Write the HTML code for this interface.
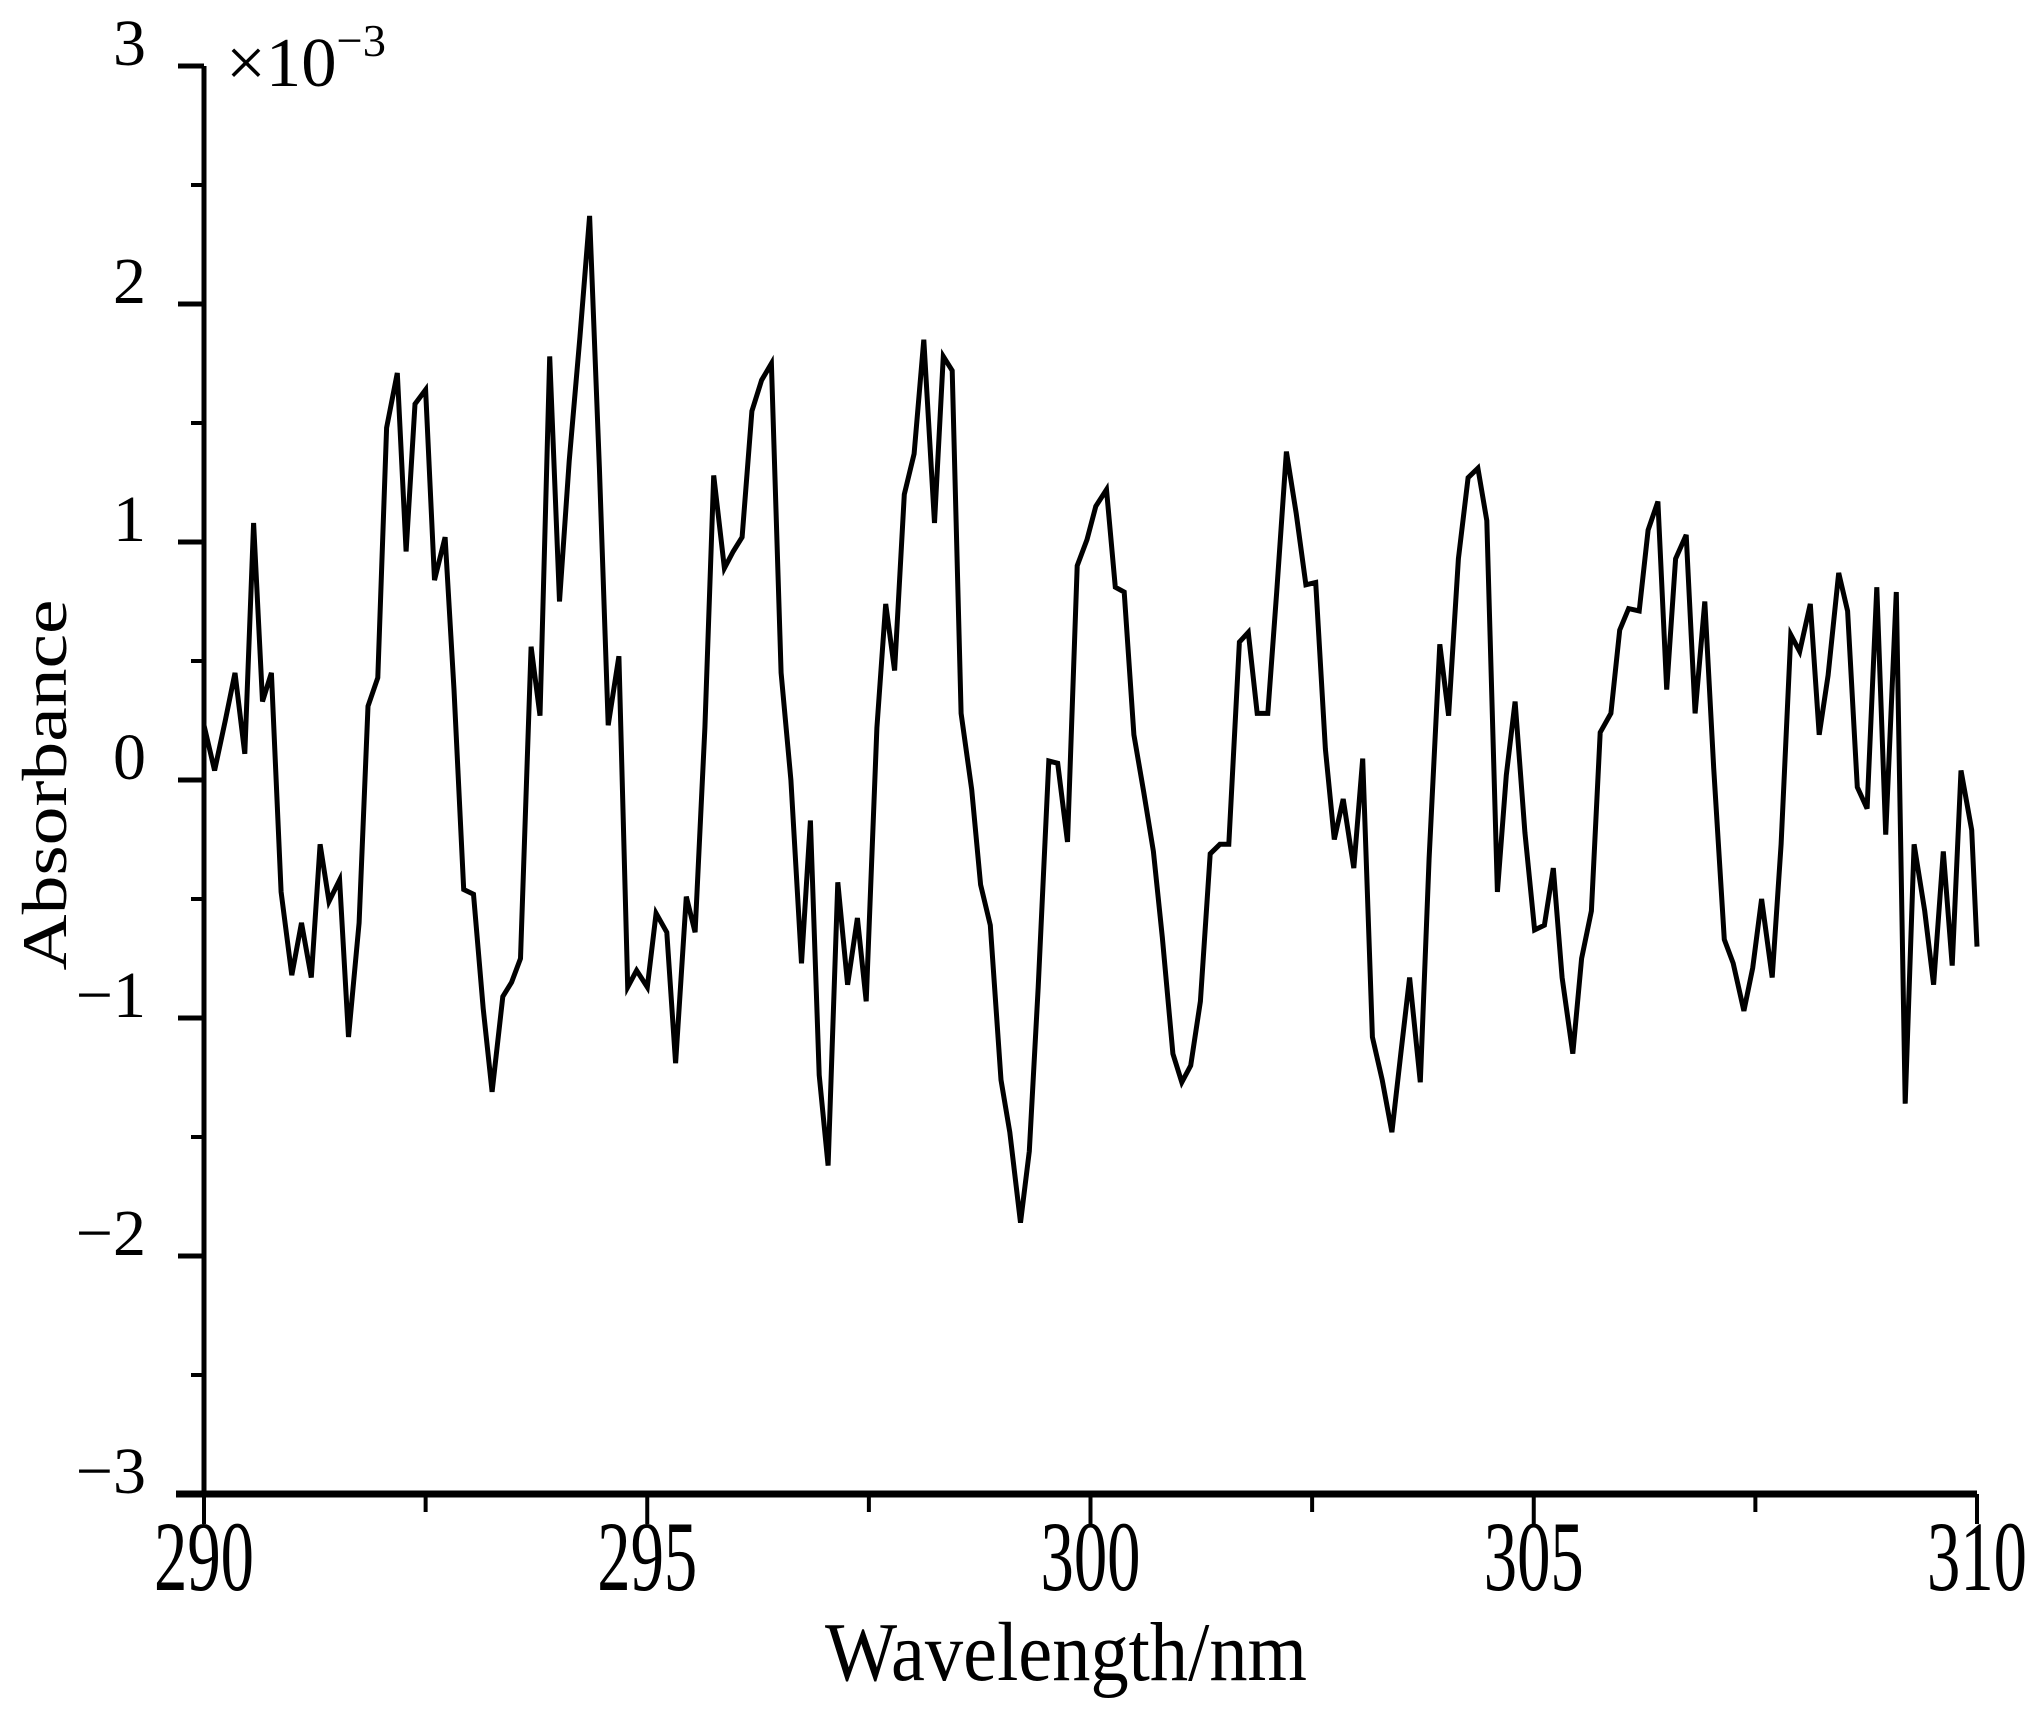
<!DOCTYPE html>
<html><head><meta charset="utf-8"><style>
html,body{margin:0;padding:0;background:#fff;}
svg{display:block;font-family:"Liberation Serif",serif;}
</style></head><body>
<svg id="chart" width="2043" height="1716" viewBox="0 0 2043 1716" xmlns="http://www.w3.org/2000/svg">
<g id="axes"></g>
<path id="series" fill="none" stroke="#000" stroke-width="5" stroke-linejoin="miter"/>
<text x="226" y="86" font-size="70" textLength="160" lengthAdjust="spacingAndGlyphs">×10<tspan font-size="46" dy="-30">−3</tspan></text>
<text x="1066" y="1680" font-size="84" text-anchor="middle" textLength="482" lengthAdjust="spacingAndGlyphs">Wavelength/nm</text>
<text transform="translate(66,785) rotate(-90)" font-size="64" text-anchor="middle" textLength="371" lengthAdjust="spacingAndGlyphs">Absorbance</text>
</svg>
<script>
const wavelengths = [290.00,290.12,290.24,290.35,290.46,290.56,290.66,290.76,290.87,290.99,291.10,291.21,291.31,291.41,291.53,291.63,291.75,291.85,291.96,292.06,292.18,292.28,292.38,292.50,292.60,292.72,292.82,292.93,293.04,293.15,293.25,293.37,293.47,293.57,293.69,293.79,293.90,294.01,294.12,294.24,294.35,294.46,294.56,294.68,294.78,294.88,295.00,295.10,295.22,295.32,295.44,295.54,295.65,295.75,295.87,295.97,296.07,296.18,296.29,296.40,296.51,296.62,296.74,296.84,296.94,297.04,297.15,297.26,297.37,297.47,297.59,297.69,297.79,297.90,298.01,298.12,298.24,298.34,298.44,298.54,298.66,298.76,298.87,298.99,299.09,299.21,299.31,299.41,299.53,299.63,299.74,299.85,299.96,300.06,300.18,300.28,300.38,300.49,300.60,300.71,300.81,300.93,301.03,301.13,301.24,301.35,301.46,301.56,301.68,301.78,301.88,302.00,302.10,302.21,302.32,302.43,302.54,302.65,302.75,302.85,302.97,303.07,303.18,303.29,303.40,303.50,303.60,303.72,303.82,303.94,304.04,304.15,304.26,304.37,304.47,304.59,304.69,304.79,304.90,305.01,305.12,305.22,305.32,305.44,305.54,305.65,305.75,305.87,305.97,306.07,306.19,306.29,306.40,306.50,306.60,306.72,306.82,306.93,307.03,307.15,307.25,307.37,307.47,307.57,307.69,307.79,307.90,308.00,308.12,308.22,308.32,308.44,308.54,308.65,308.76,308.87,308.97,309.09,309.19,309.29,309.41,309.51,309.62,309.72,309.82,309.94,310.00];
const absorbance = [0.23,0.04,0.25,0.45,0.11,1.08,0.33,0.45,-0.47,-0.82,-0.60,-0.83,-0.27,-0.51,-0.42,-1.08,-0.60,0.31,0.43,1.48,1.71,0.96,1.58,1.64,0.84,1.02,0.38,-0.46,-0.48,-0.96,-1.31,-0.91,-0.85,-0.75,0.56,0.27,1.78,0.75,1.34,1.86,2.37,1.31,0.23,0.52,-0.87,-0.80,-0.87,-0.56,-0.64,-1.19,-0.49,-0.64,0.22,1.28,0.89,0.96,1.02,1.55,1.68,1.75,0.45,0.0,-0.77,-0.17,-1.24,-1.62,-0.43,-0.86,-0.58,-0.93,0.22,0.74,0.46,1.20,1.37,1.85,1.08,1.78,1.72,0.28,-0.04,-0.44,-0.61,-1.26,-1.48,-1.86,-1.56,-0.87,0.08,0.07,-0.26,0.90,1.01,1.15,1.22,0.81,0.79,0.19,-0.05,-0.30,-0.66,-1.15,-1.27,-1.20,-0.93,-0.31,-0.27,-0.27,0.58,0.62,0.28,0.28,0.79,1.38,1.12,0.82,0.83,0.13,-0.25,-0.08,-0.37,0.09,-1.08,-1.26,-1.48,-1.15,-0.83,-1.27,-0.33,0.57,0.27,0.93,1.27,1.31,1.09,-0.47,0.02,0.33,-0.22,-0.63,-0.61,-0.37,-0.83,-1.15,-0.75,-0.55,0.20,0.28,0.63,0.72,0.71,1.05,1.17,0.38,0.93,1.03,0.28,0.75,0.05,-0.67,-0.77,-0.97,-0.79,-0.50,-0.83,-0.27,0.61,0.54,0.74,0.19,0.44,0.87,0.71,-0.03,-0.12,0.81,-0.23,0.79,-1.36,-0.27,-0.55,-0.86,-0.30,-0.78,0.04,-0.21,-0.70];
const xTicks = [290,295,300,305,310];
const xTickLabels = ["290","295","300","305","310"];
const yTicks = [-3,-2,-1,0,1,2,3];
const yTickLabels = ["−3","−2","−1","0","1","2","3"];

const NS = "http://www.w3.org/2000/svg";
const X0 = 204, X1 = 1977, Y0 = 1494, Y1 = 66;
function xs(v){ return X0 + (v - 290) / 20 * (X1 - X0); }
function ys(v){ return Y0 - (v + 3) / 6 * (Y0 - Y1); }
const axes = document.getElementById('axes');
function mk(tag, attrs){ const e = document.createElementNS(NS, tag); for (const k in attrs) e.setAttribute(k, attrs[k]); axes.appendChild(e); return e; }

let e = mk('line', {x1:X0, y1:Y1, x2:X0, y2:Y0+3, stroke:'#000', 'stroke-width':5});


e = mk('line', {x1:X0-28, y1:Y0, x2:X1, y2:Y0, stroke:'#000', 'stroke-width':7});



yTicks.forEach((t, i) => {
  const y = ys(t);
  let tk = mk('line', {x1:X0-26, y1:y, x2:X0, y2:y, stroke:'#000', 'stroke-width':5});
  
  
  if (i < yTicks.length - 1) {
    let m = mk('line', {x1:X0-13, y1:ys(t+0.5), x2:X0, y2:ys(t+0.5), stroke:'#000', 'stroke-width':4});
    
    
  }
  let lb = mk('text', {x:146, y:y - 1, 'font-size':66, 'text-anchor':'end'});
  lb.textContent = yTickLabels[i];
  
  
});
xTicks.forEach((t, i) => {
  const x = xs(t);
  let tk = mk('line', {x1:x, y1:Y0, x2:x, y2:Y0+30, stroke:'#000', 'stroke-width':4});
  
  
  if (i < xTicks.length - 1) {
    let m = mk('line', {x1:xs(t+2.5), y1:Y0, x2:xs(t+2.5), y2:Y0+18, stroke:'#000', 'stroke-width':4});
    
    
  }
  let lb = mk('text', {x:x, y:1590, 'font-size':100, 'text-anchor':'middle', textLength:100, lengthAdjust:'spacingAndGlyphs'});
  lb.textContent = xTickLabels[i];
  
  
});

let d = '';
wavelengths.forEach((w, i) => { d += (i ? 'L' : 'M') + xs(w).toFixed(1) + ',' + ys(absorbance[i]).toFixed(1); });
document.getElementById('series').setAttribute('d', d);
</script>
</body></html>
